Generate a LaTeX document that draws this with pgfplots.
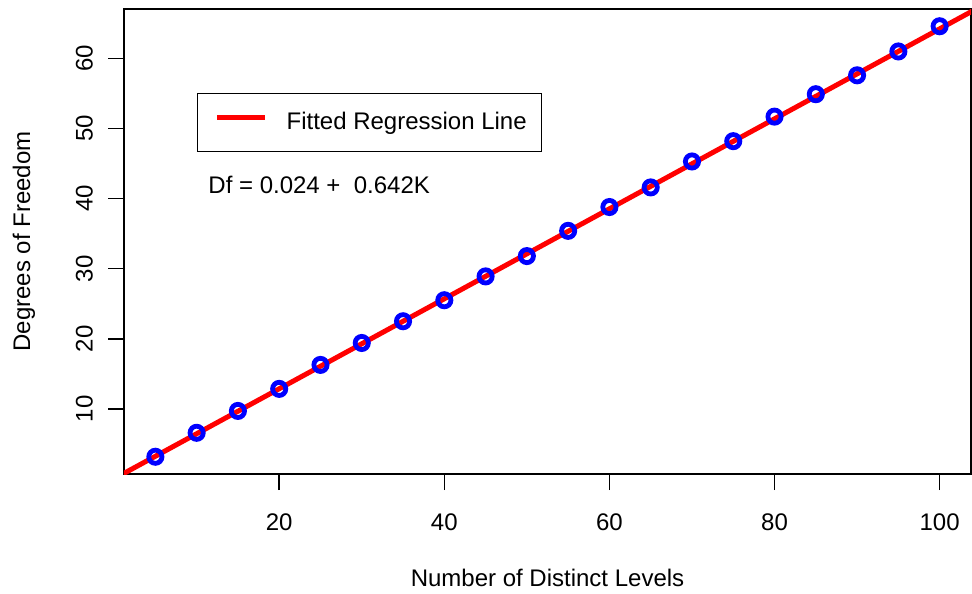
\documentclass[border=0pt]{standalone}
\usepackage{fontspec}
\setmainfont{Liberation Sans}
\usepackage{pgfplots}
\pgfplotsset{compat=1.18}
\usetikzlibrary{calc}
\definecolor{rblue}{RGB}{0,0,255}
\definecolor{rred}{RGB}{255,0,0}

\begin{document}
\begin{tikzpicture}
\begin{axis}[name=ax,
  scale only axis, width=423.5pt, height=232.5pt,
  xmin=1.2, xmax=103.8, ymin=0.70, ymax=67.06,
  xtick={20,40,60,80,100}, ytick={10,20,30,40,50,60},
  tick align=outside, major tick length=8pt,
  xtick pos=bottom, ytick pos=left,
  axis line style={line width=0.75pt}, every tick/.style={black,line width=0.75pt},
  font=\fontsize{12}{14}\selectfont,
  /pgf/number format/assume math mode=true,
  xticklabel style={yshift=-8.5pt},
  yticklabel style={rotate=90, anchor=south, yshift=4pt},
  xlabel={Number of Distinct Levels}, ylabel={Degrees of Freedom},
  every axis x label/.style={at={(axis description cs:0.5,0)}, anchor=center, yshift=-52pt},
  every axis y label/.style={at={(axis description cs:0,0.5)}, anchor=center, rotate=90, yshift=50pt},
  legend style={at={(rel axis cs:0.0862,0.819)}, anchor=north west, draw=black, line width=0.6pt,
    inner xsep=8.5pt, inner ysep=7.25pt, font=\fontsize{12}{14}\selectfont,
    /tikz/every odd column/.append style={column sep=7.5pt}},
  legend image code/.code={\draw[rred, line width=2.5pt] (0,0) -- (24pt,0);},
]
\addplot[only marks, mark=o, mark size=3.3pt, rblue, line width=2.4pt, forget plot] coordinates {
  (5,3.16) (10,6.58) (15,9.7) (20,12.85) (25,16.27) (30,19.4) (35,22.5) (40,25.5)
  (45,28.9) (50,31.8) (55,35.4) (60,38.8) (65,41.6) (70,45.3) (75,48.2) (80,51.7)
  (85,54.9) (90,57.6) (95,61.0) (100,64.6)};
\addplot[rred, line width=2.5pt] coordinates {(0,0.024) (110,70.644)};
\addlegendentry{Fitted Regression Line\hspace*{-3pt}}
\node[anchor=west, inner sep=0pt] at (rel axis cs:0.0992,0.6215) {Df = 0.024 +\ \ 0.642K};
\end{axis}
\path ($(ax.south west)+(-62pt,-59pt)$) rectangle ($(ax.north east)+(0.5pt,4.5pt)$);
\end{tikzpicture}
\end{document}
